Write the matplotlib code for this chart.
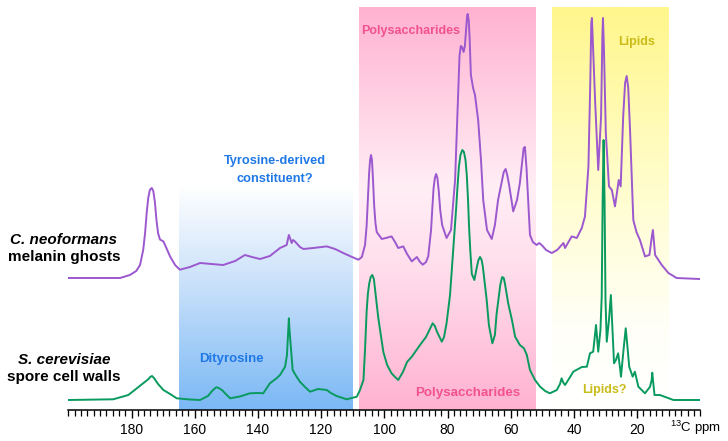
import matplotlib
matplotlib.use("Agg")

import matplotlib.pyplot as plt
import numpy as np
from matplotlib.ticker import MultipleLocator

plt.rcParams["font.family"] = ["Liberation Sans", "DejaVu Sans"]
plt.rcParams["mathtext.fontset"] = "custom"
plt.rcParams["mathtext.rm"] = "Liberation Sans"

# ---------------------------------------------------------------------------
# Traced spectra (chemical shift in ppm, intensity above own baseline)
# ---------------------------------------------------------------------------

melanin_ppm = [200.0, 183.6, 180.5, 178.5, 177.3, 176.3, 175.7, 175.2, 174.7, 174.2,
               173.6, 173.1, 172.6, 172.1, 171.6, 171.0, 169.9, 169.1, 167.8, 166.2,
               164.7, 161.5, 158.3, 154.5, 151.0, 147.2, 144.1, 141.9, 139.3, 136.2,
               133.0, 130.9, 130.2, 129.3, 128.9, 128.3, 126.7, 125.6, 122.5, 118.2,
               115.6, 113.0, 110.2, 108.2, 107.1, 106.1, 105.6, 105.2, 104.8, 104.5,
               104.2, 103.9, 103.6, 103.2, 102.8, 102.4, 100.8, 99.5, 97.7, 96.6,
               95.6, 94.0, 92.8, 91.3, 89.7, 88.7, 87.8, 86.8, 86.1, 85.2,
               84.8, 84.4, 84.0, 83.6, 83.2, 82.8, 82.3, 81.7, 80.3, 78.9,
               77.6, 76.7, 76.2, 75.8, 75.4, 74.9, 74.5, 74.1, 73.8, 73.6,
               73.3, 73.0, 72.6, 71.9, 71.3, 70.3, 69.4, 68.7, 67.5, 66.0,
               65.0, 64.0, 62.8, 62.2, 61.6, 61.1, 60.5, 59.2, 58.0, 57.1,
               56.3, 55.9, 55.5, 55.0, 53.9, 53.0, 51.8, 51.0, 50.2, 48.8,
               47.0, 45.3, 43.9, 43.3, 42.8, 40.7, 39.1, 37.5, 36.5, 35.4,
               34.8, 34.5, 34.3, 33.8, 33.3, 32.3, 31.4, 31.0, 30.8, 30.5,
               29.9, 28.9, 28.0, 27.0, 25.8, 25.2, 24.4, 23.8, 23.3, 22.8,
               22.2, 21.2, 20.2, 19.1, 17.5, 16.1, 15.4, 15.0, 14.6, 14.3,
               12.2, 10.1, 7.5, 0.3]
melanin_int = [0, 0, 3, 7, 13, 28, 45, 65, 80, 88,
               90, 87, 76, 58, 45, 38.5, 36.6, 31, 21.6, 13,
               8.3, 11, 15, 14, 13, 17, 23, 21, 19, 22,
               30, 33, 43, 35, 38, 36.6, 31, 29, 30, 31.6,
               29, 25, 21, 18.3, 21, 33, 52, 78, 105, 118,
               123, 118, 100, 72, 55, 46, 39, 40, 41.6, 36,
               30, 31.6, 24, 16.6, 21, 16, 13.3, 16, 21.6, 48,
               70, 90, 100, 104, 100, 88, 68, 53, 40, 48,
               98, 178, 222, 232, 231, 226, 232, 250, 262, 264,
               258, 240, 203, 190, 183, 158, 118, 78, 48, 39,
               53, 78, 96.6, 106, 109, 103, 93, 66.6, 78, 95,
               118, 130, 131, 110, 43, 36, 33, 35, 33, 28,
               25, 28, 33, 35, 30, 41.6, 40, 50, 61.6, 111.6,
               198, 255, 260, 218, 178, 108, 161.6, 240, 260, 230,
               145, 91.6, 88, 71.6, 98, 91.6, 161.6, 195, 202, 190,
               145, 58, 46, 38, 21.6, 23, 40, 48, 33, 23,
               13, 5, 0, -1]

spore_ppm = [200.0, 185.8, 181.0, 176.3, 174.6, 174.1, 173.5, 172.9, 171.6, 169.9,
             167.8, 165.7, 161.5, 158.3, 155.8, 154.5, 153.5, 153.0, 152.4, 151.4,
             148.8, 145.7, 142.5, 140.0, 138.3, 136.2, 134.0, 133.0, 131.4, 130.8,
             130.4, 130.2, 130.0, 129.5, 129.0, 127.9, 126.7, 125.1, 123.5, 121.0,
             118.2, 116.9, 115.1, 111.9, 108.7, 107.7, 106.6, 106.1, 105.6, 105.2,
             104.8, 104.3, 103.8, 103.3, 102.9, 102.4, 101.9, 100.3, 99.1, 97.7,
             96.6, 95.6, 94.1, 92.8, 91.3, 88.7, 86.8, 85.4, 84.7, 84.0,
             83.3, 81.8, 81.1, 80.3, 79.2, 78.2, 77.3, 76.8, 76.4, 75.9,
             75.3, 74.8, 74.3, 73.9, 73.5, 73.2, 72.8, 72.3, 71.5, 70.7,
             70.2, 69.7, 69.2, 68.8, 67.6, 66.9, 65.8, 65.0, 64.5, 63.9,
             63.3, 62.7, 62.2, 61.8, 60.8, 59.6, 58.6, 57.1, 55.8, 54.9,
             53.9, 52.3, 50.7, 49.1, 47.6, 45.4, 44.4, 43.9, 43.3, 42.8,
             41.2, 40.2, 37.5, 35.9, 34.9, 33.9, 33.0, 32.3, 31.6, 31.2,
             30.9, 30.6, 30.3, 30.0, 29.6, 28.9, 28.3, 27.8, 27.3, 26.7,
             26.0, 25.4, 25.1, 24.3, 23.6, 23.1, 22.5, 21.4, 20.7, 19.6,
             17.5, 15.9, 15.4, 15.2, 14.8, 14.5, 12.8, 8.5, 0.3]
spore_int = [0, 0.7, 5, 16.7, 21, 23, 24, 22, 16, 10,
             6, 1.7, 0.5, 0, 4, 9, 12, 12.7, 12, 10,
             1.7, 3.5, 6.7, 7, 6.7, 16.7, 22, 25, 33.3, 45,
             70, 81.7, 70, 50, 30, 24, 18.3, 13, 8.3, 11,
             10, 7, 4, 0.7, 3.3, 10, 20, 50, 88, 106,
             116, 123, 125, 121, 110, 96, 82, 48, 35, 26.7,
             23, 20, 28, 38, 43.3, 55, 63, 72, 76.7, 74,
             68, 58.3, 63, 76.7, 105, 150, 190, 215, 233, 245,
             250, 248, 240, 225, 200, 175, 150, 126, 120, 133,
             140, 143, 140, 133, 100, 75, 56.7, 65, 85, 100,
             115, 123, 122, 116, 96.7, 80, 63.3, 55, 51.7, 45,
             30, 20, 13.3, 9, 6.7, 10, 16, 21.7, 17, 15,
             23, 28.3, 33, 33.3, 46.7, 48.3, 75, 48.3, 70, 103.3,
             200, 260, 200, 100, 58.3, 80, 105, 70, 36.7, 40,
             46.7, 32, 23.3, 50, 71.7, 55, 33.3, 23.3, 28.3, 13.3,
             6.7, 13.3, 20, 27.3, 15, 5, 5, 0, 0]

# shaded assignment regions: (ppm high, ppm low)
dityrosine_region = (165, 110)
polysaccharide_region = (108, 52)
lipid_region = (47, 10)

MELANIN_COLOR = "#9b58cf"
SPORE_COLOR = "#089a5e"
BLUE_TEXT = "#1f78e6"
PINK_TEXT = "#f2528f"
LIPID_TEXT = "#c9bb18"


def gradient(ax, region, y0, y1, stops):
    """Draw a vertical colour gradient box. stops: list of (frac, rgb) bottom->top."""
    fr = np.linspace(0, 1, 200)
    pos = [s[0] for s in stops]
    cols = np.array([s[1] for s in stops], dtype=float) / 255.0
    img = np.stack([np.interp(fr, pos, cols[:, k]) for k in range(3)], axis=-1)
    img = img[:, None, :]
    ax.imshow(img, extent=[region[0], region[1], y0, y1], origin="lower",
              aspect="auto", zorder=0, interpolation="bilinear")


fig = plt.figure(figsize=(7.28, 4.41), dpi=100)
W, H = 728, 441
ax = fig.add_axes([68.3 / W, 1 - 410 / H, 632 / W, 410 / H])

gradient(ax, dityrosine_region, 0, 225,
         [(0, (122, 184, 245)), (0.55, (200, 224, 250)), (1, (255, 255, 255))])
gradient(ax, polysaccharide_region, 0, 403,
         [(0, (255, 178, 208)), (0.35, (255, 222, 236)), (0.55, (255, 238, 245)),
          (0.8, (255, 205, 225)), (1, (255, 178, 208))])
gradient(ax, lipid_region, 0, 403,
         [(0, (255, 255, 255)), (0.2, (255, 255, 248)), (0.55, (255, 253, 205)),
          (1, (255, 246, 140))])

melanin_offset = 132
spore_offset = 10
ax.plot(melanin_ppm, np.array(melanin_int) + melanin_offset,
        color=MELANIN_COLOR, lw=1.4, zorder=3, solid_joinstyle="round")
ax.plot(spore_ppm, np.array(spore_int) + spore_offset,
        color=SPORE_COLOR, lw=1.4, zorder=3, solid_joinstyle="round")

ax.set_xlim(200, 0)
ax.set_ylim(0, 410)
for side in ("left", "right", "top"):
    ax.spines[side].set_visible(False)
ax.spines["bottom"].set_linewidth(1.1)
ax.set_yticks([])
ax.xaxis.set_minor_locator(MultipleLocator(2))
ax.set_xticks(np.arange(180, 0, -20))
ax.tick_params(axis="x", which="major", length=6, width=1.0, labelsize=10, pad=3)
ax.tick_params(axis="x", which="minor", length=4, width=0.9)

fig.text(670 / W, 1 - 428 / H, "$^{13}$C ppm", fontsize=9.5, va="center", ha="left")

# sample labels
fig.text(64 / W, 1 - 240 / H, "C. neoformans", fontsize=11, fontweight="bold",
         fontstyle="italic", ha="center", va="center")
fig.text(64 / W, 1 - 257 / H, "melanin ghosts", fontsize=11, fontweight="bold",
         ha="center", va="center")
fig.text(64 / W, 1 - 360 / H, "S. cerevisiae", fontsize=11, fontweight="bold",
         fontstyle="italic", ha="center", va="center")
fig.text(64 / W, 1 - 377 / H, "spore cell walls", fontsize=11, fontweight="bold",
         ha="center", va="center")

# region annotations
fig.text(275 / W, 1 - 161 / H, "Tyrosine-derived", fontsize=9.2,
         fontweight="bold", color=BLUE_TEXT, ha="center", va="center")
fig.text(275 / W, 1 - 179 / H, "constituent?", fontsize=9.2,
         fontweight="bold", color=BLUE_TEXT, ha="center", va="center")
fig.text(231 / W, 1 - 359 / H, "Dityrosine", fontsize=9.5, fontweight="bold",
         color=BLUE_TEXT, ha="center", va="center")
fig.text(411 / W, 1 - 31 / H, "Polysaccharides", fontsize=9, fontweight="bold",
         color=PINK_TEXT, ha="center", va="center")
fig.text(468 / W, 1 - 393 / H, "Polysaccharides", fontsize=9.6, fontweight="bold",
         color=PINK_TEXT, ha="center", va="center")
fig.text(637 / W, 1 - 42 / H, "Lipids", fontsize=9, fontweight="bold",
         color=LIPID_TEXT, ha="center", va="center")
fig.text(604 / W, 1 - 390 / H, "Lipids?", fontsize=9, fontweight="bold",
         color=LIPID_TEXT, ha="center", va="center")

fig.savefig("out.png", dpi=100)
